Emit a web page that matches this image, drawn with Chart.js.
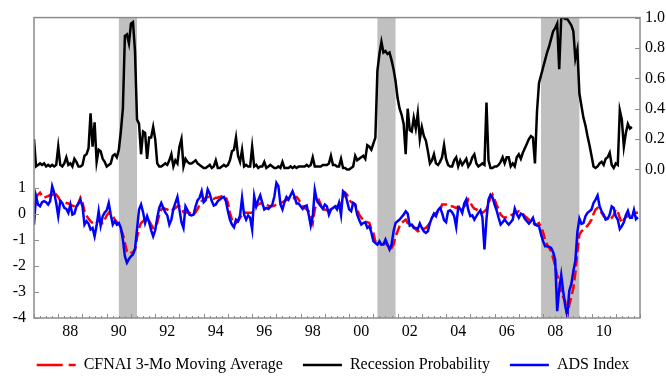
<!DOCTYPE html>
<html>
<head>
<meta charset="utf-8">
<script src="https://cdn.jsdelivr.net/npm/chart.js@4/dist/chart.umd.min.js"></script>
<style>
  body { margin: 0; background: #ffffff; }
  #chart { display: block; }
</style>
</head>
<body>
<canvas id="chart" width="666" height="376"></canvas>
<script>
// Monthly series, first value = Jan 1987
const startYear = 1987;

// Recession probability (right axis), Jan 1987 - Sep 2011
const recessionProb = [
    0.20, 0.02, 0.03, 0.04, 0.03, 0.04, 0.02, 0.03, 0.02, 0.03, 0.02, 0.03,
    0.15, 0.03, 0.02, 0.04, 0.08, 0.03, 0.04, 0.02, 0.07, 0.05, 0.02, 0.02,
    0.03, 0.09, 0.10, 0.14, 0.37, 0.15, 0.31, 0.05, 0.13, 0.12, 0.07, 0.05,
    0.02, 0.03, 0.04, 0.09, 0.10, 0.08, 0.13, 0.25, 0.40, 0.88, 0.89, 0.83,
    0.96, 0.97, 0.78, 0.33, 0.30, 0.10, 0.25, 0.24, 0.07, 0.21, 0.21, 0.28,
    0.20, 0.04, 0.02, 0.02, 0.03, 0.04, 0.03, 0.06, 0.10, 0.02, 0.06, 0.04,
    0.15, 0.20, 0.02, 0.07, 0.05, 0.04, 0.04, 0.05, 0.06, 0.04, 0.03, 0.02,
    0.01, 0.01, 0.02, 0.03, 0.01, 0.02, 0.06, 0.01, 0.01, 0.02, 0.03, 0.02,
    0.03, 0.06, 0.12, 0.13, 0.21, 0.09, 0.05, 0.13, 0.02, 0.03, 0.02, 0.02,
    0.15, 0.02, 0.03, 0.01, 0.02, 0.02, 0.05, 0.01, 0.02, 0.03, 0.02, 0.01,
    0.01, 0.02, 0.01, 0.05, 0.01, 0.01, 0.01, 0.02, 0.01, 0.02, 0.01, 0.02,
    0.02, 0.02, 0.02, 0.03, 0.02, 0.03, 0.08, 0.02, 0.02, 0.02, 0.02, 0.03,
    0.03, 0.03, 0.04, 0.09, 0.03, 0.03, 0.02, 0.02, 0.07, 0.01, 0.01, 0.00,
    0.00, 0.01, 0.02, 0.09, 0.06, 0.07, 0.08, 0.09, 0.07, 0.16, 0.15, 0.13,
    0.17, 0.21, 0.65, 0.76, 0.84, 0.77, 0.78, 0.76, 0.77, 0.72, 0.66, 0.58,
    0.47, 0.40, 0.36, 0.30, 0.10, 0.40, 0.26, 0.25, 0.34, 0.27, 0.37, 0.20,
    0.28, 0.22, 0.19, 0.12, 0.04, 0.06, 0.10, 0.04, 0.03, 0.05, 0.08, 0.16,
    0.07, 0.03, 0.02, 0.02, 0.06, 0.08, 0.02, 0.06, 0.03, 0.05, 0.07, 0.02,
    0.04, 0.08, 0.10, 0.04, 0.02, 0.03, 0.04, 0.03, 0.44, 0.06, 0.01, 0.01,
    0.02, 0.02, 0.03, 0.05, 0.08, 0.04, 0.08, 0.08, 0.02, 0.04, 0.02, 0.08,
    0.10, 0.07, 0.11, 0.14, 0.17, 0.20, 0.22, 0.21, 0.04, 0.38, 0.57, 0.62,
    0.67, 0.72, 0.77, 0.81, 0.86, 0.91, 0.93, 0.96, 0.66, 1.00, 1.00, 0.99,
    0.99, 0.97, 0.95, 0.91, 0.73, 0.79, 0.50, 0.42, 0.34, 0.29, 0.22, 0.16,
    0.09, 0.02, 0.01, 0.02, 0.04, 0.05, 0.03, 0.07, 0.08, 0.11, 0.03, 0.01,
    0.04, 0.03, 0.39, 0.33, 0.15, 0.24, 0.30, 0.27, 0.28
];

// ADS index (left axis), Jan 1987 - Dec 2011
const adsIndex = [
    -0.41, 0.68, 0.36, 0.29, 0.45, 0.49, 0.45, 0.36, 0.49, 1.06, 0.81, 0.42,
    -0.09, 0.49, 0.42, 0.23, 0.19, 0.04, 0.36, -0.03, 0.01, 0.29, 0.40, 0.53,
    0.29, -0.41, -0.28, -0.37, -0.60, -0.54, -0.86, -0.45, 0.10, -0.45, -0.09, 0.05,
    0.14, 0.42, -0.03, -0.41, -0.28, -0.41, -0.35, -0.54, -0.99, -1.63, -1.88, -1.73,
    -1.63, -1.56, -1.35, -0.60, 0.17, 0.36, 0.06, -0.35, -0.09, -0.32, -0.63, -0.86,
    -0.63, -0.15, 0.23, 0.42, 0.23, 0.06, -0.06, -0.41, -0.22, 0.19, 0.42, 0.65,
    0.17, -0.32, -0.54, 0.29, 0.14, -0.03, -0.06, -0.03, 0.29, 0.53, 0.62, 0.87,
    0.45, 0.53, 0.94, 0.78, 0.49, 0.32, 0.36, 0.49, 0.55, 0.62, 0.65, 0.49,
    0.10, -0.22, -0.41, -0.51, -0.22, -0.28, -0.06, 0.62, -0.03, -0.22, -0.06, -0.15,
    -0.60, 0.68, 0.29, 0.53, 0.71, 0.42, 0.17, 0.23, 0.19, 0.27, 0.36, 0.68,
    1.19, 1.06, 0.36, 0.17, 0.45, 0.65, 0.55, 0.71, 0.87, 0.65, 0.40, 0.40,
    0.29, 0.19, 0.29, 0.32, -0.03, -0.45, -0.10, 0.92, 0.53, 0.40, 0.29, 0.19,
    0.36, 0.29, -0.03, 0.17, 0.23, 0.29, 0.17, 0.42, -0.04, 0.87, 0.80, 0.49,
    0.17, 0.10, 0.42, 0.36, -0.03, -0.24, -0.41, -0.35, -0.32, -0.54, -0.47, -0.71,
    -1.05, -1.12, -1.18, -1.05, -1.18, -1.18, -0.99, -1.18, -1.37, -1.18, -0.67, -0.35,
    -0.28, -0.22, -0.12, -0.03, 0.10, 0.01, -0.45, -0.41, -0.54, -0.54, -0.58, -0.37,
    -0.54, -0.67, -0.73, -0.67, -0.35, -0.15, 0.01, -0.09, 0.14, 0.23, 0.04, -0.24,
    -0.32, 0.10, 0.14, 0.06, -0.09, -0.50, 0.25, 0.20, 0.04, 0.40, 0.55, 0.15,
    -0.09, -0.06, -0.22, -0.09, 0.04, 0.14, -0.15, -1.37, -0.20, 0.55, 0.74, 0.64,
    0.36, 0.14, -0.15, -0.41, -0.32, -0.22, -0.32, -0.41, -0.32, -0.22, 0.20, 0.00,
    -0.15, 0.01, -0.03, -0.19, -0.28, -0.37, -0.28, -0.15, -0.41, -0.45, -0.47, -0.79,
    -1.05, -1.24, -1.24, -1.27, -1.31, -1.47, -1.76, -3.74, -2.90, -2.35, -3.00, -3.55,
    -3.90, -2.95, -2.70, -2.20, -1.80, -0.70, -0.18, -0.38, -0.35, -0.09, 0.04, 0.10,
    0.17, 0.42, 0.55, 0.71, 0.29, 0.10, -0.03, -0.22, -0.19, -0.03, 0.29, 0.23,
    -0.09, -0.22, -0.58, -0.47, -0.32, -0.05, 0.12, -0.15, -0.15, 0.15, -0.20, -0.13
];

// CFNAI 3-month moving average (left axis), Jan 1987 - Dec 2011
const cfnaiMA3 = [
    0.06, 0.62, 0.74, 0.81, 0.68, 0.62, 0.65, 0.68, 0.73, 0.74, 0.65, 0.74,
    0.65, 0.49, 0.49, 0.45, 0.42, 0.40, 0.36, 0.32, 0.29, 0.23, 0.42, 0.62,
    0.45, 0.10, -0.06, -0.19, -0.28, -0.35, -0.41, -0.35, -0.22, -0.28, -0.35, -0.22,
    -0.06, 0.04, -0.03, -0.09, -0.22, -0.32, -0.45, -0.60, -0.79, -1.12, -1.44, -1.53,
    -1.50, -1.47, -1.37, -0.92, -0.54, -0.35, -0.28, -0.22, -0.22, -0.28, -0.41, -0.54,
    -0.47, -0.35, -0.03, 0.17, 0.23, 0.19, 0.17, 0.10, 0.14, 0.17, 0.23, 0.29,
    0.29, 0.23, 0.06, 0.04, 0.06, 0.04, 0.01, -0.03, 0.06, 0.19, 0.36, 0.49,
    0.55, 0.62, 0.65, 0.65, 0.62, 0.58, 0.62, 0.62, 0.65, 0.68, 0.68, 0.65,
    0.42, 0.04, -0.22, -0.32, -0.35, -0.28, -0.15, -0.03, 0.06, 0.04, 0.04, 0.04,
    0.04, 0.17, 0.29, 0.36, 0.40, 0.42, 0.40, 0.36, 0.32, 0.29, 0.29, 0.32,
    0.36, 0.40, 0.42, 0.45, 0.49, 0.53, 0.55, 0.55, 0.58, 0.62, 0.65, 0.55,
    0.42, 0.29, 0.23, 0.17, 0.10, -0.09, -0.35, 0.17, 0.42, 0.53, 0.36, 0.17,
    0.17, 0.14, 0.10, 0.19, 0.23, 0.29, 0.29, 0.36, 0.36, 0.62, 0.81, 0.74,
    0.55, 0.45, 0.40, 0.36, 0.17, -0.03, -0.15, -0.22, -0.28, -0.32, -0.35, -0.60,
    -0.73, -1.05, -1.12, -1.15, -1.18, -1.15, -1.12, -1.22, -1.27, -1.31, -1.18, -0.86,
    -0.67, -0.47, -0.35, -0.28, -0.22, -0.35, -0.40, -0.41, -0.50, -0.60, -0.67, -0.64,
    -0.60, -0.57, -0.54, -0.45, -0.35, -0.15, -0.05, 0.04, 0.10, 0.10, 0.36, 0.36,
    0.36, 0.32, 0.29, 0.29, 0.26, 0.23, 0.27, 0.29, 0.23, 0.29, 0.36, 0.55,
    0.45, 0.29, 0.20, 0.17, 0.10, 0.06, 0.04, 0.10, 0.17, 0.42, 0.60, 0.74,
    0.55, 0.35, 0.17, -0.03, -0.10, -0.15, -0.12, -0.09, -0.05, -0.03, 0.04, 0.06,
    0.10, 0.04, 0.00, -0.09, -0.15, -0.22, -0.30, -0.35, -0.41, -0.40, -0.35, -0.50,
    -0.70, -0.99, -1.18, -1.30, -1.44, -1.70, -2.01, -2.35, -2.60, -2.97, -3.20, -3.36,
    -3.90, -3.49, -3.20, -2.85, -2.27, -1.45, -0.80, -0.67, -0.60, -0.54, -0.45, -0.35,
    -0.22, 0.00, 0.17, 0.23, 0.17, 0.04, -0.09, -0.15, -0.22, -0.20, -0.15, -0.05,
    0.17, 0.10, -0.15, -0.35, -0.22, -0.12, -0.09, -0.03, 0.00, 0.04, 0.04, 0.04
];

// NBER recessions (decimal years)
const recessionStart = [1990.5, 2001.167, 2007.917];
const recessionEnd = [1991.25, 2001.917, 2009.5];

// Axis ticks
const yearLabels = [1988, 1990, 1992, 1994, 1996, 1998, 2000, 2002, 2004, 2006, 2008, 2010];
const leftTicks = [-4, -3, -2, -1, 0, 1];
const rightTicks = [0, 0.2, 0.4, 0.6, 0.8, 1.0];

function toPoints(values) {
    return values.map((v, i) => ({ x: startYear + i / 12, y: v }));
}

// Recession shading, frame and inward tick marks
const decorPlugin = {
    id: 'decor',
    beforeDatasetsDraw(chart) {
        const { ctx, chartArea, scales } = chart;
        ctx.save();
        ctx.fillStyle = '#c0c0c0';
        recessionStart.forEach((s, i) => {
            const x0 = scales.x.getPixelForValue(s);
            const x1 = scales.x.getPixelForValue(recessionEnd[i]);
            ctx.fillRect(x0, chartArea.top, x1 - x0, chartArea.bottom - chartArea.top);
        });
        ctx.restore();
    },
    afterDatasetsDraw(chart) {
        const { ctx, chartArea, scales } = chart;
        const { left, right, top, bottom } = chartArea;
        ctx.save();
        ctx.strokeStyle = '#8c8c8c';
        ctx.lineWidth = 1.5;
        ctx.strokeRect(left, top, right - left, bottom - top);

        ctx.lineWidth = 1;
        ctx.beginPath();
        for (let q = 0; q <= 100; q++) {
            const t = startYear + q / 4;
            const x = Math.round(scales.x.getPixelForValue(t)) + 0.5;
            const len = q % 4 === 0 ? 4 : 2;
            ctx.moveTo(x, bottom);
            ctx.lineTo(x, bottom - len);
        }
        leftTicks.forEach(v => {
            const y = Math.round(scales.y.getPixelForValue(v)) + 0.5;
            ctx.moveTo(left, y);
            ctx.lineTo(left + 5, y);
        });
        rightTicks.forEach(v => {
            const y = Math.round(scales.y1.getPixelForValue(v)) + 0.5;
            ctx.moveTo(right, y);
            ctx.lineTo(right - 5, y);
        });
        ctx.stroke();
        ctx.restore();
    }
};

Chart.defaults.font.family = "'Liberation Serif', 'Times New Roman', serif";
Chart.defaults.font.size = 16;
Chart.defaults.color = '#000000';

const ctx = document.getElementById('chart').getContext('2d');
const chart = new Chart(ctx, {
    type: 'line',
    data: {
        datasets: [{
            label: 'CFNAI 3-Mo Moving Average',
            data: toPoints(cfnaiMA3),
            yAxisID: 'y',
            borderColor: '#ff0000',
            borderWidth: 2.5,
            borderDash: [10, 4],
            pointRadius: 0,
            tension: 0,
            order: 2
        }, {
            label: 'Recession Probability',
            data: toPoints(recessionProb),
            yAxisID: 'y1',
            borderColor: '#000000',
            borderWidth: 2.5,
            pointRadius: 0,
            tension: 0,
            order: 1
        }, {
            label: 'ADS Index',
            data: toPoints(adsIndex),
            yAxisID: 'y',
            borderColor: '#0000ff',
            borderWidth: 2.5,
            pointRadius: 0,
            tension: 0,
            order: 0
        }]
    },
    options: {
        responsive: false,
        animation: false,
        devicePixelRatio: 1,
        layout: {
            padding: { top: 14, bottom: -7, left: 0, right: 0 }
        },
        scales: {
            x: {
                type: 'linear',
                min: 1987,
                max: 2012,
                grid: { display: false, drawTicks: false },
                border: { display: false },
                afterBuildTicks: axis => {
                    axis.ticks = yearLabels.map(y => ({ value: y + 0.5 }));
                },
                afterFit: axis => { axis.height = 19; },
                ticks: {
                    autoSkip: false,
                    maxRotation: 0,
                    padding: 4,
                    callback: v => String(Math.floor(v)).slice(2)
                }
            },
            y: {
                type: 'linear',
                position: 'left',
                min: -4,
                max: 7.54,
                grid: { display: false, drawTicks: false },
                border: { display: false },
                afterBuildTicks: axis => {
                    axis.ticks = leftTicks.map(v => ({ value: v }));
                },
                afterFit: axis => { axis.width = 34; },
                ticks: { autoSkip: false, padding: 8 }
            },
            y1: {
                type: 'linear',
                position: 'right',
                min: -0.978,
                max: 1.0,
                grid: { display: false, drawTicks: false },
                border: { display: false },
                afterBuildTicks: axis => {
                    axis.ticks = rightTicks.map(v => ({ value: v }));
                },
                afterFit: axis => { axis.width = 26; },
                ticks: {
                    autoSkip: false,
                    padding: 5,
                    callback: v => v.toFixed(1)
                }
            }
        },
        plugins: {
            legend: {
                position: 'bottom',
                labels: {
                    usePointStyle: true,
                    pointStyle: 'line',
                    pointStyleWidth: 39,
                    padding: 20,
                    color: '#000000',
                    sort: (a, b) => a.datasetIndex - b.datasetIndex,
                    generateLabels: chart => {
                        const items = Chart.defaults.plugins.legend.labels.generateLabels(chart);
                        items.forEach(item => {
                            if (item.datasetIndex === 0) item.lineDash = [26, 6];
                        });
                        return items;
                    }
                }
            },
            tooltip: { enabled: false }
        }
    },
    plugins: [decorPlugin]
});
</script>
</body>
</html>
